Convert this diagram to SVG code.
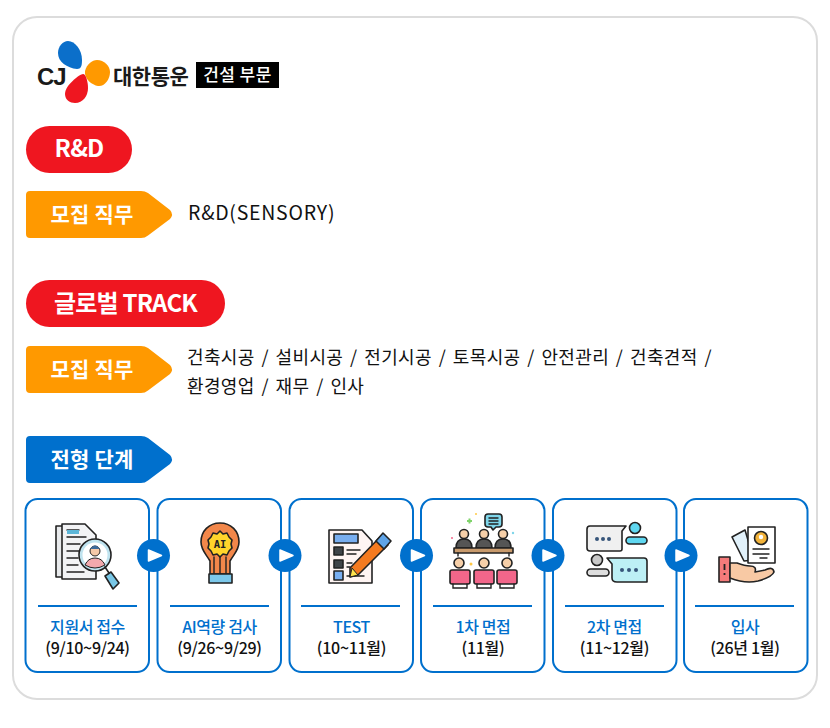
<svg xmlns="http://www.w3.org/2000/svg" width="830" height="728" viewBox="0 0 830 728">
<style>
text{font-family:"Noto Sans CJK KR","Noto Sans",sans-serif}
.card{fill:#fff;stroke:#0070cd;stroke-width:2}
.rule{stroke:#0070cd;stroke-width:2}
.t1{font-size:16px;font-weight:500;fill:#0070cd;text-anchor:middle;letter-spacing:-.4px}
.t2{font-size:16px;font-weight:500;fill:#111;text-anchor:middle;letter-spacing:-.3px}
.h{font-size:24px;font-weight:700;fill:#fff;text-anchor:middle;letter-spacing:-.8px}
.b{font-size:21px;font-weight:700;fill:#fff;text-anchor:middle;letter-spacing:.2px}
.body{font-size:18px;fill:#111;letter-spacing:.35px;word-spacing:2.400px}
.k{stroke:#222;stroke-width:1.600;stroke-linejoin:round;stroke-linecap:round}
.l{stroke:#222;stroke-width:1.400;fill:none;stroke-linecap:round}
</style>
<defs>
<path id="tagshape" d="M30 0H141Q145 0 148 2L170 19Q174 23.500 170 28L148 44.500Q145 47 141 47H30Q26 47 26 43V4Q26 0 30 0Z"/>
<g id="play"><circle r="16.500" fill="#0070cd"/><path d="M-5-5.500L8 0L-5 5.500Z" fill="#fff" stroke="#fff" stroke-width="1.500" stroke-linejoin="round"/></g>
</defs>
<rect id="frame" x="13" y="17" width="804" height="682" rx="24" fill="#fff" stroke="#dcdcdc" stroke-width="2"/>
<g id="logo">
<path d="M68 41C75 41 82 50 82 60C82 66 81 69 77 69C67 68 58 62 58 53C58 46 63 41 68 41Z" fill="#0b6fca"/>
<path d="M85 71C87 64 92 60 97 60C104 60 110 66 110 72C110 80 104 87 98 86C92 85 84 79 85 71Z" fill="#ff9900"/>
<path d="M83 74C80 74 65 85 65 94C65 100 70 103 75 103C83 103 88 96 88 88C88 82 86 74 83 74Z" fill="#ef1620"/>
<text x="37" y="85" font-size="24" font-weight="700" fill="#1a1a1a" style="font-family:'Liberation Sans',sans-serif;letter-spacing:-1.200px">CJ</text>
<text x="113" y="84" font-size="21" font-weight="700" fill="#1a1a1a" letter-spacing="-.5">대한통운</text>
<rect x="196" y="62" width="83" height="26" fill="#000"/>
<text x="237.500" y="81" font-size="17" font-weight="500" fill="#fff" text-anchor="middle" letter-spacing=".4">건설 부문</text>
</g>
<g id="rd"><rect x="26" y="126" width="106" height="47" rx="23.500" fill="#ef1620"/><text class="h" x="79" y="157">R&amp;D</text></g>
<g id="job1"><use href="#tagshape" y="191" fill="#ff9900"/><text class="b" x="92" y="222">모집 직무</text></g>
<text id="job1-text" class="body" x="188" y="220" style="font-size:19.500px;letter-spacing:.75px">R&amp;D(SENSORY)</text>
<g id="global"><rect x="26" y="280" width="199" height="47" rx="23.500" fill="#ef1620"/><text class="h" x="125.500" y="312">글로벌 TRACK</text></g>
<g id="job2"><use href="#tagshape" y="346" fill="#ff9900"/><text class="b" x="92" y="377">모집 직무</text></g>
<g id="job2-text"><text class="body" x="187" y="364">건축시공 / 설비시공 / 전기시공 / 토목시공 / 안전관리 / 건축견적 /</text><text class="body" x="187" y="393">환경영업 / 재무 / 인사</text></g>
<g id="steps-title"><use href="#tagshape" y="436" fill="#0070cd"/><text class="b" x="92" y="467">전형 단계</text></g>

<g id="step1"><rect class="card" x="25.500" y="499" width="123.500" height="173" rx="12"/>
<path class="k" d="M56 526H80V577H56Z" fill="#e8eaec"/><path class="k" d="M62 524H85L96 535V579H62Z" fill="#f2f3f5"/><path class="l" d="M67 530H79M67 537H86M67 544H80M67 551H80M67 558H78M67 565H78M67 572H84"/><path d="M67 534H79V530H67Z" fill="#5cb6d8"/>
<circle class="k" cx="95" cy="555" r="16" fill="#bfe3ef"/><circle cx="95" cy="555" r="12.500" fill="#fff"/><circle cx="95" cy="551" r="5" fill="#f6c9a8" stroke="#222"/><path d="M85 565Q88 558 95 558T105 565Q100 568 95 568T85 565Z" fill="#f3a9ad" stroke="#222"/><path d="M90 549Q95 542 100 549Z" fill="#3d6b9c"/><path class="k" d="M105 567L109 573" fill="none"/><path class="k" d="M105 576L111 572L119 583L113 589Z" fill="#79c7e6"/>
<path class="rule" d="M38 606H137"/><text class="t1" x="87.500" y="633">지원서 접수</text><text class="t2" x="87.500" y="654">(9/10~9/24)</text></g>

<g id="step2"><rect class="card" x="157.500" y="499" width="123.500" height="173" rx="12"/>
<path class="k" d="M210 574V561C206 554 201 550 201 542C201 531 209 523 220 523C231 523 239 531 239 542C239 550 234 554 230 561V574Z" fill="#f2874a"/>
<path class="k" d="M220 531L223 534L227 533L229 537L232 540L231 544L232 548L229 551L227 555L223 554L220 557L217 554L213 555L211 551L208 548L209 544L208 540L211 537L213 533L217 534Z" fill="#ffd52b"/>
<path class="l" d="M214 557V574M220 557V574M226 557V574"/><rect class="k" x="209" y="574" width="23" height="9" fill="#7cc8ea"/>
<text x="220" y="548" font-size="10.500" font-weight="700" text-anchor="middle" fill="#222" style="font-family:'DejaVu Sans Mono',monospace">AI</text>
<path class="rule" d="M170 606H269"/><text class="t1" x="219.500" y="633">AI역량 검사</text><text class="t2" x="219.500" y="654">(9/26~9/29)</text></g>

<g id="step3"><rect class="card" x="289.500" y="499" width="123.500" height="173" rx="12"/>
<path class="k" d="M329 530H362L372 541V583H329Z" fill="#fff5f3"/><rect class="k" x="334" y="534" width="24" height="9" fill="#79aef0"/><rect class="k" x="334" y="547" width="9" height="8" fill="#3f4448"/><rect class="k" x="334" y="560" width="9" height="8" fill="#3f4448"/><rect class="k" x="334" y="571" width="9" height="9" fill="#79aef0"/><path class="l" d="M347 550H360M347 554H356M347 563H352M347 567H350M347 576H364"/>
<path class="k" d="M350 568L380 537L388 545L358 575L350 577Z" fill="#f47a20"/><path class="k" d="M376 541L383 533L391 541L384 549Z" fill="#5fa4e8"/><path d="M350 577L352 568L358 575Z" fill="#ffe34d" stroke="#222"/>
<path class="rule" d="M301 606H400"/><text class="t1" x="351.500" y="633">TEST</text><text class="t2" x="351.500" y="654">(10~11월)</text></g>

<g id="step4"><rect class="card" x="421" y="499" width="123.500" height="173" rx="12"/>
<path class="k" d="M488 514H499Q502 514 502 517V524Q502 527 499 527H496L493 530L491 527H488Q485 527 485 524V517Q485 514 488 514Z" fill="#7fd6ea"/><path class="l" d="M489 518H498M489 521H498M489 524H498"/>
<g fill="#555"><path class="k" d="M456 548Q456 539 464 539T472 548Z"/><path class="k" d="M476 548Q476 539 484 539T492 548Z"/><path class="k" d="M495 548Q495 539 503 539T511 548Z"/></g>
<g fill="#f6cfa8"><circle class="k" cx="464" cy="534" r="4.500"/><circle class="k" cx="484" cy="534" r="4.500"/><circle class="k" cx="503" cy="534" r="4.500"/><circle class="k" cx="459" cy="563" r="5"/><circle class="k" cx="484" cy="563" r="5"/><circle class="k" cx="507" cy="563" r="5"/></g>
<rect class="k" x="454" y="548" width="59" height="5" fill="#c89a6c"/><path class="l" d="M458 553V556M509 553V556"/>
<g fill="#f2668a"><rect class="k" x="450" y="570" width="20" height="14" rx="2"/><rect class="k" x="474" y="570" width="20" height="14" rx="2"/><rect class="k" x="497" y="570" width="20" height="14" rx="2"/></g>
<path class="l" d="M453 584V588H467V584M477 584V588H491V584M500 584V588H514V584"/>
<path d="M467 521H472M469.500 518.500V523.500" stroke="#7fd36a" stroke-width="2"/><circle cx="476" cy="514" r="1" fill="#ffc845"/><circle cx="452" cy="538" r="1" fill="#f2668a"/><circle cx="513" cy="533" r="1.200" fill="#7fd6ea"/><circle cx="471" cy="564" r="1.500" fill="#ffc845"/>
<path class="rule" d="M433 606H532"/><text class="t1" x="483" y="633">1차 면접</text><text class="t2" x="483" y="654">(11월)</text></g>

<g id="step5"><rect class="card" x="553" y="499" width="123.500" height="173" rx="12"/>
<path class="k" d="M590 526H626L622 531V549Q622 551 620 551H590Q587 551 587 548V529Q587 526 590 526Z" fill="#f0f0f0"/><g fill="#37557a"><circle cx="597" cy="539" r="2"/><circle cx="603" cy="539" r="2"/><circle cx="609" cy="539" r="2"/></g>
<circle class="k" cx="635" cy="528" r="5.500" fill="#5fd7f0"/><rect class="k" x="626" y="537" width="21" height="7" rx="3.500" fill="#5fd7f0"/>
<circle class="k" cx="597" cy="560" r="5.500" fill="#c9c9c9"/><rect class="k" x="587" y="569" width="22" height="7" rx="3.500" fill="#dedede"/>
<path class="k" d="M607 558H644Q647 558 647 561V582H617Q612 582 612 578V564Z" fill="#bdf0f5"/><g fill="#37557a"><circle cx="622" cy="570" r="2"/><circle cx="629" cy="570" r="2"/><circle cx="636" cy="570" r="2"/></g>
<path class="rule" d="M565 606H664"/><text class="t1" x="614.500" y="633">2차 면접</text><text class="t2" x="614.500" y="654">(11~12월)</text></g>

<g id="step6"><rect class="card" x="684" y="499" width="123.500" height="173" rx="12"/>
<path class="k" d="M732 537L745 530L754 560L744 561Z" fill="#e1f1fa"/><rect class="k" x="748" y="527" width="27" height="36" fill="#fff"/><circle class="k" cx="761" cy="538" r="6.500" fill="#f2b33a"/><circle cx="761" cy="537" r="2.200" fill="#fff"/><path class="l" d="M753 549H769M753 554H769M760 558H767"/>
<rect class="k" x="719" y="557" width="11" height="25" fill="#f47a7a"/><path d="M724.500 564V570M724.500 573V575" stroke="#222" stroke-width="1.800"/>
<path class="k" d="M730 563H737Q745 566 750 566Q757 566 755 572L765 570Q773 566 774 572Q772 577 758 581Q745 584 730 578Z" fill="#f8c9a4"/>
<path class="rule" d="M695 606H794"/><text class="t1" x="745" y="633">입사</text><text class="t2" x="745" y="654">(26년 1월)</text></g>

<g id="connectors"><use href="#play" x="153.500" y="555.500"/><use href="#play" x="285" y="555.500"/><use href="#play" x="416.500" y="555.500"/><use href="#play" x="548" y="555.500"/><use href="#play" x="681" y="555.500"/></g>
</svg>
